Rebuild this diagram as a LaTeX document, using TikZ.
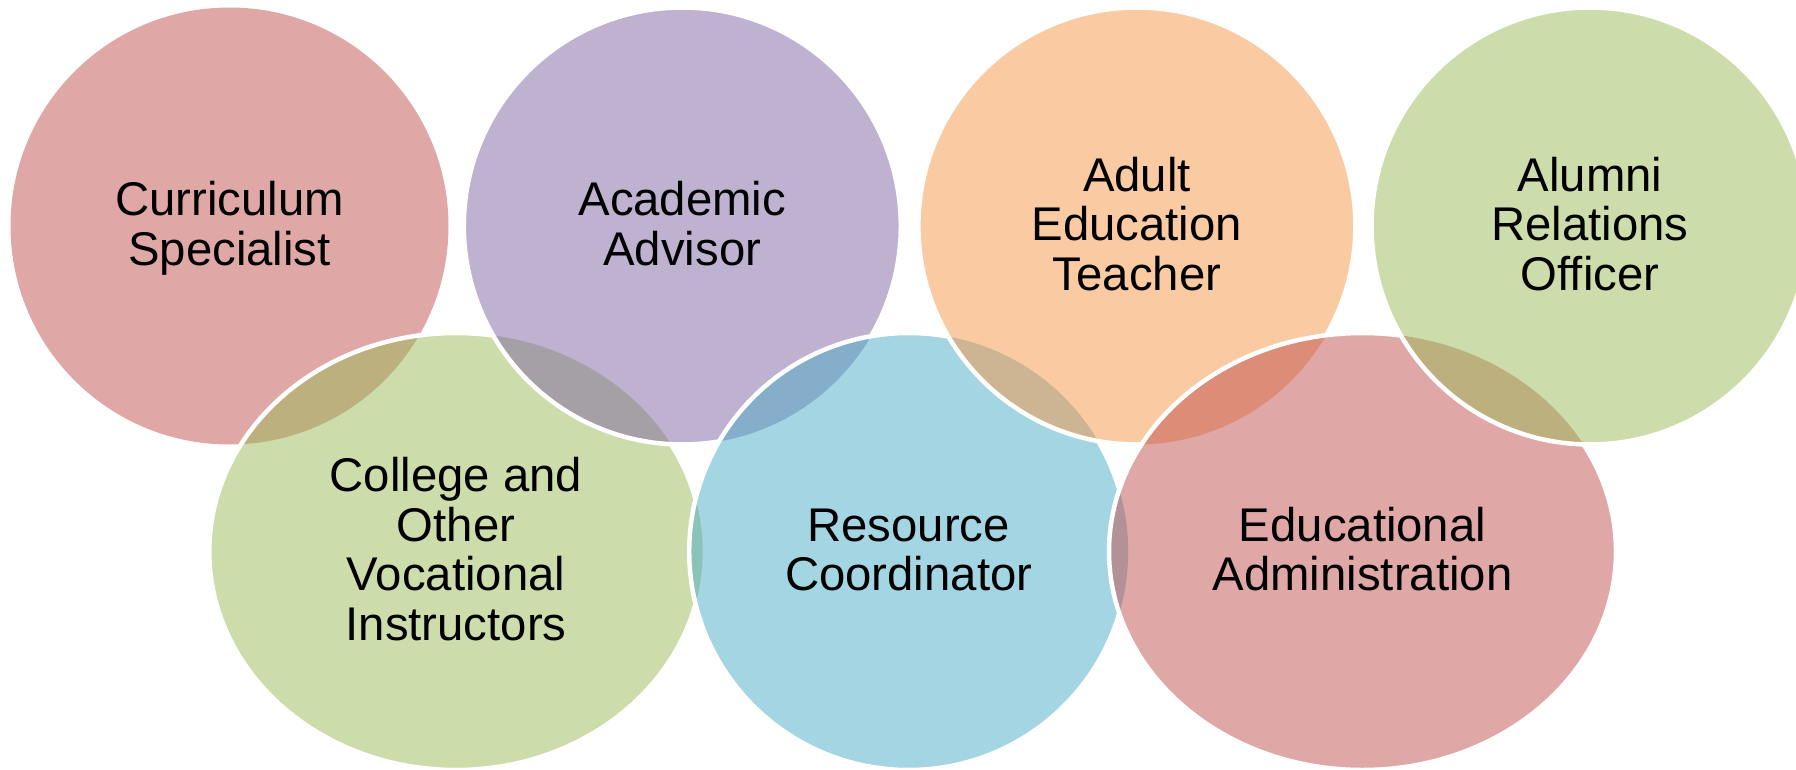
\documentclass[tikz,border=0pt]{standalone}
\usepackage{fontspec}
\setmainfont{Liberation Sans}
\definecolor{cred}{HTML}{C0504D}
\definecolor{cgreen}{HTML}{9BBB59}
\definecolor{cpurple}{HTML}{8064A2}
\definecolor{caqua}{HTML}{4BACC6}
\definecolor{corange}{HTML}{F79646}
\newcommand{\ls}{\rule[-10.05pt]{0pt}{49.5pt}}
\begin{document}
\begin{tikzpicture}[x=1pt,y=-1pt,
  lbl/.style={align=center, inner sep=0pt, text=black,
    font=\fontsize{47.3pt}{49.5pt}\selectfont},
  ring/.style={draw=white, line width=4.5pt},
  half/.style={fill opacity=0.5}]
\def\rect{(-30,-30) rectangle (1830,800)}
\def\shA{(229.5,226) ellipse [x radius=219, y radius=218.5]}
\def\shB{(456,551.5) ellipse [x radius=246.7, y radius=218.5]}
\def\shC{(682.3,226) ellipse [x radius=218.5, y radius=218.5]}
\def\shD{(908.7,551.5) ellipse [x radius=219.5, y radius=218.5]}
\def\shE{(1136.9,226) ellipse [x radius=218.5, y radius=218.5]}
\def\shF{(1362.5,551.5) ellipse [x radius=253.5, y radius=218.5]}
\def\shG{(1590,226) ellipse [x radius=218.5, y radius=218.5]}
\fill[white] (0,0) rectangle (1796,770);
\useasboundingbox (0,0) rectangle (1796,770);
% translucent fills, in drawing order
\fill[cred, half] \shA;
\fill[cgreen, half] \shB;
\fill[cpurple, half] \shC;
\fill[caqua, half] \shD;
\fill[corange, half] \shE;
\fill[cred, half] \shF;
\fill[cgreen, half] \shG;
% white outlines, hidden where a later shape lies on top
\begin{scope}[even odd rule]
  \clip \rect \shC;
  \clip \rect \shD;
  \clip \rect \shE;
  \clip \rect \shF;
  \clip \rect \shG;
  \draw[ring] \shB;
\end{scope}
\begin{scope}[even odd rule]
  \clip \rect \shD;
  \clip \rect \shE;
  \clip \rect \shF;
  \clip \rect \shG;
  \draw[ring] \shC;
\end{scope}
\begin{scope}[even odd rule]
  \clip \rect \shE;
  \clip \rect \shF;
  \clip \rect \shG;
  \draw[ring] \shD;
\end{scope}
\begin{scope}[even odd rule]
  \clip \rect \shF;
  \clip \rect \shG;
  \draw[ring] \shE;
\end{scope}
\begin{scope}[even odd rule]
  \clip \rect \shG;
  \draw[ring] \shF;
\end{scope}
\draw[ring] \shG;
% labels
\node[lbl] (curriculum) at (229.5,226) {\ls Curriculum\\\ls Specialist};
\node[lbl] (academic) at (682.3,226) {\ls Academic\\\ls Advisor};
\node[lbl] (adult) at (1136.9,226) {\ls Adult\\\ls Education\\\ls Teacher};
\node[lbl] (alumni) at (1590,226) {\ls Alumni\\\ls Relations\\\ls Officer};
\node[lbl] (college) at (456,551.5) {\ls College and\\\ls Other\\\ls Vocational\\\ls Instructors};
\node[lbl] (resource) at (908.7,551.5) {\ls Resource\\\ls Coordinator};
\node[lbl] (educational) at (1362.5,551.5) {\ls Educational\\\ls Administration};
\end{tikzpicture}
\end{document}
